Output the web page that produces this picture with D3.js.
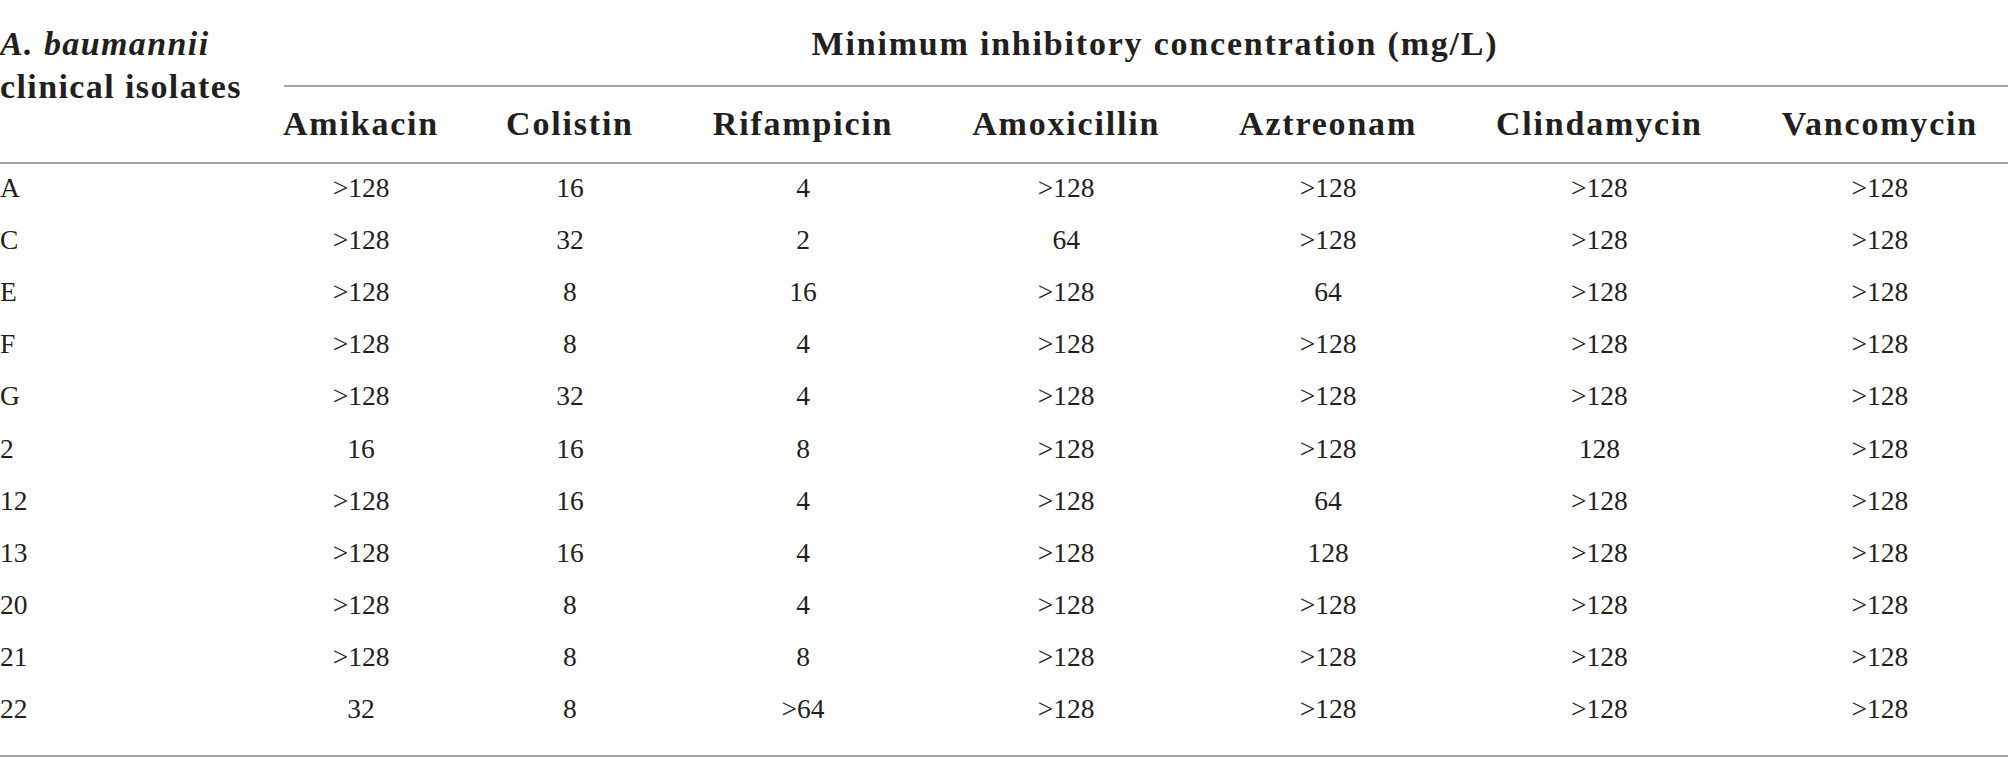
<!DOCTYPE html>
<html>
<head>
<meta charset="utf-8">
<script src="https://cdn.jsdelivr.net/npm/d3@7"></script>
<style>
  html, body { margin: 0; padding: 0; background: #fff; }
  svg { display: block; }
  .body-text { font-family: "Liberation Serif", serif; font-size: 27.5px; fill: #231f20; }
  .head-text { font-family: "Liberation Serif", serif; font-size: 34px; font-weight: bold; fill: #231f20; letter-spacing: 1.8px; }
  .stub-text { letter-spacing: 1.4px; }
</style>
</head>
<body>
<script>
const width = 2008;
const height = 774;

const isolates = ['A', 'C', 'E', 'F', 'G', '2', '12', '13', '20', '21', '22'];
const drugs = ['Amikacin', 'Colistin', 'Rifampicin', 'Amoxicillin', 'Aztreonam', 'Clindamycin', 'Vancomycin'];

// MIC values (mg/L), one array per drug, in isolate order
const amikacin    = ['>128', '>128', '>128', '>128', '>128', '16', '>128', '>128', '>128', '>128', '32'];
const colistin    = ['16', '32', '8', '8', '32', '16', '16', '16', '8', '8', '8'];
const rifampicin  = ['4', '2', '16', '4', '4', '8', '4', '4', '4', '8', '>64'];
const amoxicillin = ['>128', '64', '>128', '>128', '>128', '>128', '>128', '>128', '>128', '>128', '>128'];
const aztreonam   = ['>128', '>128', '64', '>128', '>128', '>128', '64', '128', '>128', '>128', '>128'];
const clindamycin = ['>128', '>128', '>128', '>128', '>128', '128', '>128', '>128', '>128', '>128', '>128'];
const vancomycin  = ['>128', '>128', '>128', '>128', '>128', '>128', '>128', '>128', '>128', '>128', '>128'];

const micByDrug = [amikacin, colistin, rifampicin, amoxicillin, aztreonam, clindamycin, vancomycin];

const stubTitle = ['A. baumannii', 'clinical isolates'];
const spannerTitle = 'Minimum inhibitory concentration (mg/L)';

const firstColStart = 283;
const firstGap = 67;   // the first data column sits a little closer to the next one
const lastColEnd = 1978;
const lineColor = '#a3a3a3';

const svg = d3.select('body')
              .append('svg')
              .attr('width', width)
              .attr('height', height);

svg.append('rect')
   .attr('width', width)
   .attr('height', height)
   .attr('fill', '#fff');

// column headers first, so their widths can drive the column layout
const headers = svg.selectAll('text.col-head')
                   .data(drugs)
                   .enter()
                   .append('text')
                   .attr('class', 'head-text col-head')
                   .attr('y', 135)
                   .attr('text-anchor', 'middle')
                   .text(d => d);

let headWidths = [];
headers.each(function() { headWidths.push(this.getComputedTextLength()); });
const gap = (lastColEnd - firstColStart - d3.sum(headWidths) - firstGap) / (drugs.length - 2);

let centers = [];
let cursor = firstColStart;
headWidths.forEach((w, i) => {
  centers.push(cursor + w / 2);
  cursor += w + (i === 0 ? firstGap : gap);
});

const x = d3.scaleOrdinal().domain(drugs).range(centers);
const y = d3.scalePoint().domain(isolates).range([197, 718]);

headers.attr('x', d => x(d));

// stub header
svg.append('text')
   .attr('class', 'head-text stub-text')
   .attr('x', 0)
   .attr('y', 55)
   .style('font-style', 'italic')
   .text(stubTitle[0]);

svg.append('text')
   .attr('class', 'head-text stub-text')
   .attr('x', 0)
   .attr('y', 98)
   .text(stubTitle[1]);

// spanner
const spanStart = 284;
svg.append('text')
   .attr('class', 'head-text')
   .attr('x', (spanStart + width) / 2 + 9)
   .attr('y', 55)
   .attr('text-anchor', 'middle')
   .text(spannerTitle);

const rules = [
  { x1: spanStart, x2: width, y: 86 },
  { x1: 0, x2: width, y: 163 },
  { x1: 0, x2: width, y: 756 }
];

svg.selectAll('line.rule')
   .data(rules)
   .enter()
   .append('line')
   .attr('class', 'rule')
   .attr('x1', d => d.x1)
   .attr('x2', d => d.x2)
   .attr('y1', d => d.y)
   .attr('y2', d => d.y)
   .attr('stroke', lineColor)
   .attr('stroke-width', 2);

// row labels
svg.selectAll('text.row-label')
   .data(isolates)
   .enter()
   .append('text')
   .attr('class', 'body-text row-label')
   .attr('x', 0)
   .attr('y', d => y(d))
   .text(d => d);

// cells
const cells = [];
drugs.forEach((drug, j) => {
  isolates.forEach((iso, i) => {
    cells.push({ drug: drug, isolate: iso, value: micByDrug[j][i] });
  });
});

svg.selectAll('text.cell')
   .data(cells)
   .enter()
   .append('text')
   .attr('class', 'body-text cell')
   .attr('x', d => x(d.drug))
   .attr('y', d => y(d.isolate))
   .attr('text-anchor', 'middle')
   .text(d => d.value);
</script>
</body>
</html>
